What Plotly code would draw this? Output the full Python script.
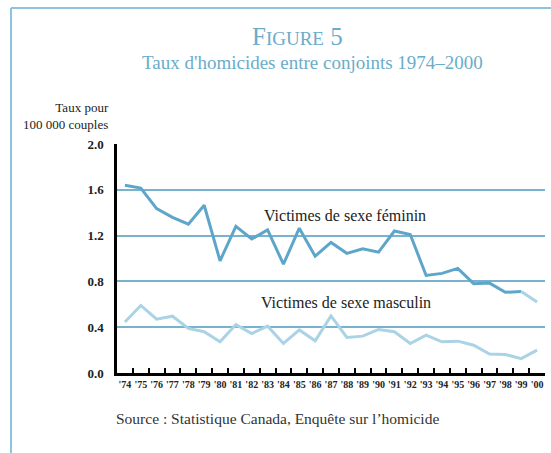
import plotly.graph_objects as go

years = ["'74", "'75", "'76", "'77", "'78", "'79", "'80", "'81", "'82", "'83", "'84", "'85", "'86",
         "'87", "'88", "'89", "'90", "'91", "'92", "'93", "'94", "'95", "'96", "'97", "'98", "'99", "'00"]
female = [1.64, 1.615, 1.435, 1.36, 1.30, 1.465, 0.98, 1.28, 1.17, 1.25, 0.95, 1.265, 1.02,
          1.14, 1.045, 1.085, 1.055, 1.24, 1.21, 0.852, 0.87, 0.914, 0.78, 0.785, 0.705, 0.712, 0.62]
male = [0.446, 0.59, 0.47, 0.496, 0.39, 0.36, 0.272, 0.423, 0.345, 0.409, 0.258, 0.376, 0.281,
        0.498, 0.31, 0.322, 0.38, 0.36, 0.258, 0.33, 0.272, 0.278, 0.243, 0.165, 0.162, 0.125, 0.2]
y_ticks = [0.0, 0.4, 0.8, 1.2, 1.6, 2.0]
y_ticktext = ["0.0", "0.4", "0.8", "1.2", "1.6", "2.0"]

dark_blue = "rgb(94,166,201)"
light_blue = "rgb(170,211,229)"
title_blue = "rgb(106,172,202)"
frame_blue = "rgb(142,196,219)"
serif = "Liberation Serif, Times New Roman, serif"

fig = go.Figure()
fig.add_trace(go.Scatter(x=years, y=male, mode="lines",
                         line=dict(color=light_blue, width=3), hoverinfo="skip"))
fig.add_trace(go.Scatter(x=years[:-1], y=female[:-1], mode="lines",
                         line=dict(color=dark_blue, width=3), hoverinfo="skip"))
fig.add_trace(go.Scatter(x=years[-2:], y=female[-2:], mode="lines",
                         line=dict(color=light_blue, width=3), hoverinfo="skip"))

W, H = 551, 453
L, R, T, B = 117, 6, 144, 80
pw, ph = W - L - R, H - T - B


def px(xp):
    return (xp - L) / pw


def py(yp):
    return (H - B - yp) / ph


fig.update_layout(
    width=W, height=H,
    margin=dict(l=L, r=R, t=T, b=B),
    paper_bgcolor="white", plot_bgcolor="white",
    showlegend=False,
    font=dict(family=serif, color="#222"),
    xaxis=dict(
        type="category", range=[-0.5, 26.5],
        showgrid=False, showline=True, linecolor="black", linewidth=2.5,
        ticks="inside", tickson="boundaries", ticklen=5, tickwidth=2, tickcolor="black",
        tickangle=0,
        tickfont=dict(family=serif, size=10, color="#222", weight="bold"),
        fixedrange=True, zeroline=False,
    ),
    yaxis=dict(
        range=[0, 2.0], tickvals=y_ticks, ticktext=y_ticktext,
        showgrid=True, gridcolor="rgb(120,178,205)", gridwidth=1.5,
        showline=True, linecolor="black", linewidth=2.5,
        ticks="", ticklabelstandoff=8,
        tickfont=dict(family=serif, size=13, color="#222", weight="bold"),
        zeroline=False, fixedrange=True,
    ),
    shapes=[
        dict(type="line", xref="paper", yref="paper", x0=px(11), x1=px(553), y0=py(8), y1=py(8),
             line=dict(color=frame_blue, width=2)),
        dict(type="line", xref="paper", yref="paper", x0=px(11), x1=px(11), y0=py(8), y1=py(455),
             line=dict(color=frame_blue, width=2)),
    ],
    annotations=[
        dict(text="F<span style='font-size:19px'>IGURE</span> 5", xref="paper", yref="paper",
             x=px(297), y=py(36), showarrow=False, xanchor="center", yanchor="middle",
             font=dict(family=serif, size=25, color=title_blue)),
        dict(text="Taux d'homicides entre conjoints 1974–2000", xref="paper", yref="paper",
             x=px(312), y=py(62), showarrow=False, xanchor="center", yanchor="middle",
             font=dict(family=serif, size=19, color=title_blue)),
        dict(text="Taux pour<br>100 000 couples", xref="paper", yref="paper",
             x=px(111), y=py(116), showarrow=False, xanchor="right", yanchor="middle", align="right",
             font=dict(family=serif, size=13, color="#222")),
        dict(text="Victimes de sexe féminin", xref="paper", yref="paper",
             x=px(345), y=py(215), showarrow=False, xanchor="center", yanchor="middle",
             font=dict(family=serif, size=16, color="#222")),
        dict(text="Victimes de sexe masculin", xref="paper", yref="paper",
             x=px(346), y=py(302), showarrow=False, xanchor="center", yanchor="middle",
             font=dict(family=serif, size=16, color="#222")),
        dict(text="Source : Statistique Canada, Enquête sur l’homicide", xref="paper", yref="paper",
             x=px(114), y=py(418), showarrow=False, xanchor="left", yanchor="middle",
             font=dict(family=serif, size=15.5, color="#333")),
    ],
)

fig.write_html("out.html", config={"displayModeBar": False},
               post_script="document.body.style.margin='0';document.body.style.overflow='hidden';")
